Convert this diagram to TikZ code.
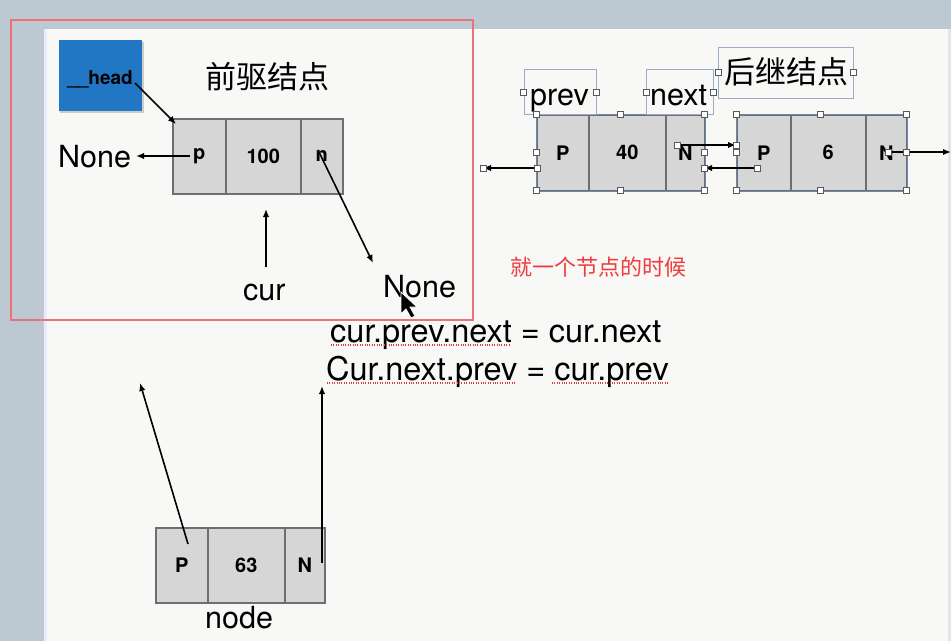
\documentclass[tikz,border=0pt]{standalone}
\usepackage{fontspec}
\setmainfont{TeX Gyre Heros}
\newfontfamily\cjk{Noto Sans CJK SC}
\usetikzlibrary{arrows.meta}
\definecolor{bgblue}{HTML}{BDC9D2}
\definecolor{slide}{HTML}{F8F8F6}
\definecolor{cellfill}{HTML}{D6D6D7}
\definecolor{cellline}{HTML}{6E6E6E}
\definecolor{headblue}{HTML}{2277C5}
\definecolor{redframe}{HTML}{EE7078}
\definecolor{redtext}{HTML}{F03C3C}
\definecolor{selblue}{HTML}{6F86B0}
\definecolor{dotred}{HTML}{D04040}
\tikzset{
  cell/.style={draw=cellline, line width=1.5pt, fill=cellfill, inner sep=0pt,
    minimum height=75pt, anchor=north west, font=\fontsize{20}{24}\selectfont\bfseries},
  big/.style={font=\fontsize{30.5}{36}\selectfont, inner sep=0pt},
  formula/.style={font=\fontsize{32.5}{38}\selectfont, inner sep=0pt},
  cjkbig/.style={font=\cjk\fontsize{31}{36}\selectfont, inner sep=0pt},
  arr/.style={-{Latex[length=8pt,width=6.5pt]}, line width=1.6pt, black},
  handle/.style={draw=black!65, fill=white, minimum size=6pt, inner sep=0pt, line width=0.6pt},
  selbox/.style={draw=selblue, line width=0.8pt},
  underl/.style={dotred, line width=1.1pt, dash pattern=on 1pt off 1.4pt},
}
\begin{document}
\begin{tikzpicture}[x=1pt, y=-1pt]
\useasboundingbox (0,0) rectangle (951,641);
% background
\fill[bgblue] (0,0) rectangle (951,641);
\fill[black!22] (42,29) rectangle (44,641);
\fill[slide] (44,29) rectangle (948,641);
\fill[white!92!blue] (44,29) rectangle (47,641);
\fill[black!10] (948,29) rectangle (951,641);

% red frame
\draw[redframe, line width=1.1pt] (11,20) rectangle (473,320);

% head box
\fill[black!20] (60,42) rectangle (144,113);
\node[fill=headblue, minimum width=83pt, minimum height=71pt, inner sep=0pt, anchor=north west] (head) at (59,40) {};
\node[anchor=base, font=\fontsize{19}{22}\selectfont\bfseries, inner sep=0pt] (headtxt) at (100,84) {\_\_head};

% title
\node[cjkbig] (qianqu) at (267,77) {前驱结点};

% node 100
\node[cell, minimum width=53pt] (ap) at (172,118) {p};
\node[cell, minimum width=75pt] (av) at (225,118) {100};
\node[cell, minimum width=42pt] (an) at (300,118) {n};

% None left
\node[big, anchor=base west] (noneL) at (58,167) {None};
\coordinate (apS) at (190,156);
\coordinate (noneLE) at (136,156);
\draw[arr] (apS) -- (noneLE);

% head arrow
\coordinate (hdS) at (135,83);
\coordinate (hdE) at (176,124);
\draw[arr] (hdS) -- (hdE);

% cur
\node[big, anchor=base west] (cur) at (243,300) {cur};
\coordinate (curS) at (266,267);
\coordinate (curE) at (266,209);
\draw[arr] (curS) -- (curE);

% n -> None
\node[big, anchor=base west] (noneR) at (383,297) {None};
\coordinate (anS) at (318,150);
\coordinate (anE) at (373,263);
\draw[arr] (anS) -- (anE);

% mouse cursor
\filldraw[fill=black, draw=white, line width=0.8pt] (401,292) -- ++(0,22) -- ++(5,-5) -- ++(5,9) -- ++(4,-2) -- ++(-5,-9) -- ++(7,0) -- cycle;

% red note
\node[font=\cjk\fontsize{22}{26}\selectfont, text=redtext, inner sep=0pt] (note) at (598,267) {就一个节点的时候};

% formulas
\node[formula, anchor=base west] (f1) at (330,342) {cur.prev.next = cur.next};
\node[formula, anchor=base west] (f2) at (326,380) {Cur.next.prev = cur.prev};
\draw[underl] (331,345) -- (510,345);
\draw[underl] (327,383) -- (516,383);
\draw[underl] (552,383) -- (668,383);

% node 40
\node[cell, minimum width=52pt, minimum height=76pt] (bp) at (536,114) {P};
\node[cell, minimum width=77pt, minimum height=76pt] (bv) at (588,114) {40};
\node[cell, minimum width=39pt, minimum height=76pt] (bn) at (665,114) {N};
% node 6
\node[cell, minimum width=54pt, minimum height=76pt] (cp) at (736,114) {P};
\node[cell, minimum width=75pt, minimum height=76pt] (cv) at (790,114) {6};
\node[cell, minimum width=41pt, minimum height=76pt] (cn) at (865,114) {N};
\draw[selbox] (bp.north west) rectangle (bn.south east);
\draw[selbox] (cp.north west) rectangle (cn.south east);

% text boxes
\draw[selbox, draw=selblue!70] (524,69) rectangle (596,114);
\node[big, anchor=base west] (prev) at (530,105) {prev};
\draw[selbox, draw=selblue!70] (646,69) rectangle (713,114);
\node[big, anchor=base west] (next) at (650,105) {next};
\draw[selbox, draw=selblue!70] (718,47) rectangle (853,98);
\node[cjkbig] (houji) at (786,72) {后继结点};

% arrows in right list
\coordinate (b1S) at (537,168);
\coordinate (b1E) at (483,168);
\draw[arr] (b1S) -- (b1E);
\coordinate (b2S) at (677,145);
\coordinate (b2E) at (736,145);
\draw[arr] (b2S) -- (b2E);
\coordinate (c1S) at (757,168);
\coordinate (c1E) at (704,168);
\draw[arr] (c1S) -- (c1E);
\coordinate (c2S) at (888,152);
\coordinate (c2E) at (951,152);
\draw[arr] (c2S) -- (c2E);

% handles
\foreach \p [count=\i] in {
  {536,114},{620,114},{704,114},{536,152},{704,152},{536,190},{620,190},{704,190},
  {736,114},{820,114},{906,114},{736,152},{906,152},{736,190},{820,190},{906,190},
  {537,168},{483,168},{677,145},{736,145},{757,168},{704,168},{888,152},
  {523,92},{596,92},{646,92},{713,92},{718,72},{853,72}}
  \node[handle] (hd\i) at (\p) {};

% node 63
\node[cell, minimum width=52pt] (dp) at (155,527) {P};
\node[cell, minimum width=77pt] (dv) at (207,527) {63};
\node[cell, minimum width=40pt] (dn) at (284,527) {N};
\node[big, anchor=base west] (nodelbl) at (205,628) {node};
\coordinate (dpS) at (188,544);
\coordinate (dpE) at (140,383);
\draw[arr] (dpS) -- (dpE);
\coordinate (dnS) at (322,563);
\coordinate (dnE) at (322,386);
\draw[arr] (dnS) -- (dnE);
\end{tikzpicture}
\end{document}
